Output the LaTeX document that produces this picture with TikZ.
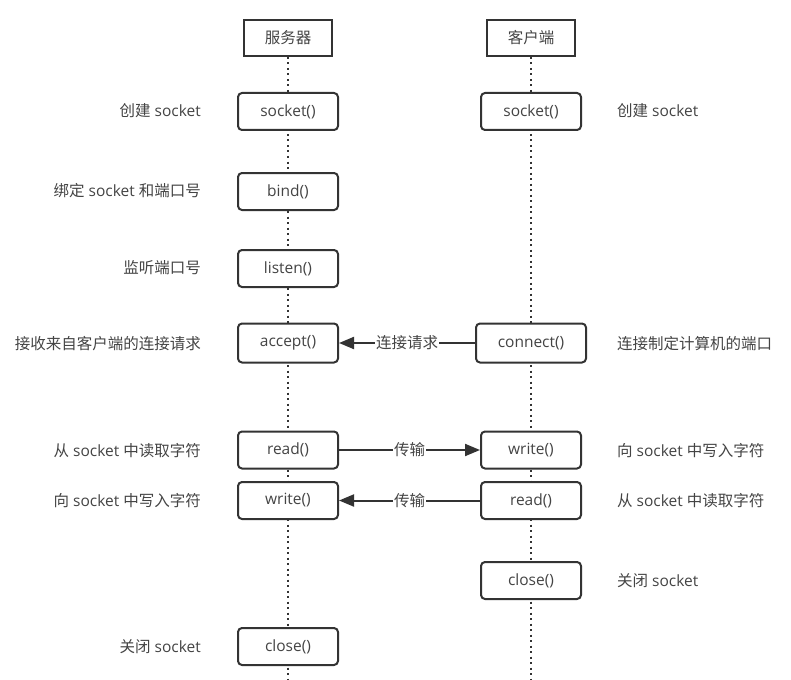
\documentclass[tikz,border=0pt]{standalone}
\usepackage{fontspec}
\setmainfont{Open Sans}
\newfontfamily\cjkf{Noto Sans CJK SC}
\newcommand\zh[1]{{\cjkf #1}}
\usetikzlibrary{arrows.meta}
\definecolor{ink}{HTML}{333333}
\definecolor{txt}{HTML}{444444}
\begin{document}
\begin{tikzpicture}[x=1pt,y=-1pt,
  every node/.style={font=\fontsize{15.5}{18}\selectfont, text=txt},
  head/.style={draw=ink, line width=2pt, minimum width=88pt, minimum height=36pt, inner sep=0pt},
  proc/.style={draw=ink, line width=2pt, rounded corners=4pt, minimum width=100pt, minimum height=37pt, inner sep=0pt, fill=white},
  lbl/.style={inner sep=0pt},
  life/.style={ink, line width=2pt, dash pattern=on 2pt off 3.5pt},
  msg/.style={ink, line width=2pt, -{Triangle[length=15pt,width=12pt]}},
  mlbl/.style={fill=white, inner sep=1pt}
]
\useasboundingbox (0,0) rectangle (791,679);
\coordinate (sbot) at (288,679);
\coordinate (cbot) at (531,679);
% headers
\node[head] (sh) at (288,38) {\zh{服务器}};
\node[head] (ch) at (531,38) {\zh{客户端}};
% lifelines
\draw[life] (sh.south) -- (sbot);
\draw[life] (ch.south) -- (cbot);
% server boxes
\node[proc] (ssock) at (288,111.5) {socket()};
\node[proc] (sbind) at (288,191.5) {bind()};
\node[proc] (slist) at (288,268.5) {listen()};
\node[proc, minimum height=39pt] (sacc) at (288,343) {accept()};
\node[proc] (sread) at (288,450) {read()};
\node[proc] (swrite) at (288,500.5) {write()};
\node[proc] (sclose) at (288,646.5) {close()};
% client boxes
\node[proc] (csock) at (531,111.5) {socket()};
\node[proc, minimum width=110pt, minimum height=39pt] (cconn) at (531,343) {connect()};
\node[proc] (cwrite) at (531,450) {write()};
\node[proc] (cread) at (531,500.5) {read()};
\node[proc] (cclose) at (531,580.5) {close()};
% messages
\draw[msg] (cconn.west) -- node[mlbl] {\zh{连接请求}} (sacc.east);
\draw[msg] (sread.east) -- node[mlbl] {\zh{传输}} (cwrite.west);
\draw[msg] (cread.west) -- node[mlbl] {\zh{传输}} (swrite.east);
% left labels
\node[lbl, anchor=east] (l1) at (201,111) {\zh{创建} socket};
\node[lbl, anchor=east] (l2) at (201,191) {\zh{绑定} socket \zh{和端口号}};
\node[lbl, anchor=east] (l3) at (201,268) {\zh{监听端口号}};
\node[lbl, anchor=east] (l4) at (201,344) {\zh{接收来自客户端的连接请求}};
\node[lbl, anchor=east] (l5) at (201,451) {\zh{从} socket \zh{中读取字符}};
\node[lbl, anchor=east] (l6) at (201,501) {\zh{向} socket \zh{中写入字符}};
\node[lbl, anchor=east] (l7) at (201,647) {\zh{关闭} socket};
% right labels
\node[lbl, anchor=west] (r1) at (617,111) {\zh{创建} socket};
\node[lbl, anchor=west] (r2) at (617,344) {\zh{连接制定计算机的端口}};
\node[lbl, anchor=west] (r3) at (617,451) {\zh{向} socket \zh{中写入字符}};
\node[lbl, anchor=west] (r4) at (617,501) {\zh{从} socket \zh{中读取字符}};
\node[lbl, anchor=west] (r5) at (617,581) {\zh{关闭} socket};
\end{tikzpicture}
\end{document}
